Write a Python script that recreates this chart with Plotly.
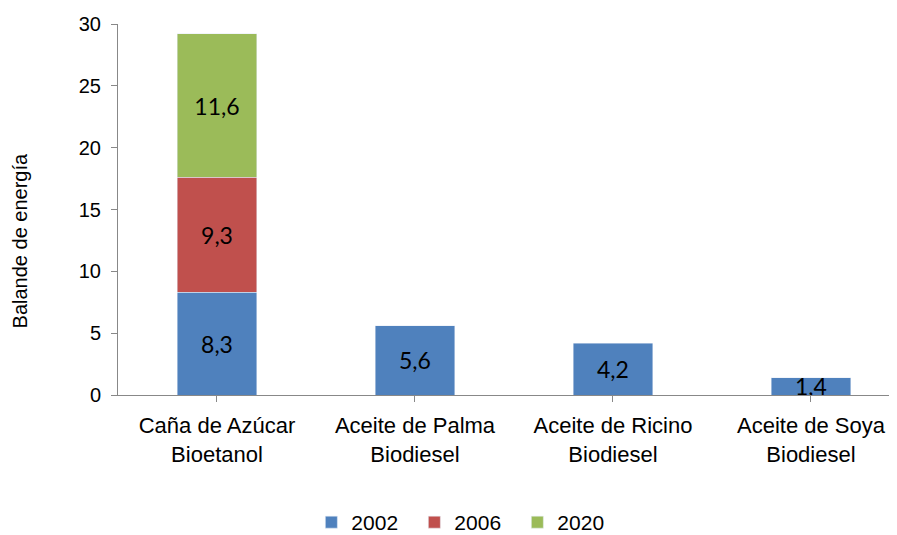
import plotly.graph_objects as go

categories = ["Caña de Azúcar<br>Bioetanol", "Aceite de Palma<br>Biodiesel",
              "Aceite de Ricino<br>Biodiesel", "Aceite de Soya<br>Biodiesel"]
v2002 = [8.3, 5.6, 4.2, 1.4]
v2006 = [9.3, None, None, None]
v2020 = [11.6, None, None, None]
y_title = "Balande de energía"

series = [("2002", v2002, "#4F81BD"), ("2006", v2006, "#C0504D"), ("2020", v2020, "#9BBB59")]

fig = go.Figure()
for name, vals, color in series:
    fig.add_trace(go.Bar(
        x=list(range(len(categories))), y=vals, name=name, marker_color=color,
        text=[None if v is None else f"{v:.1f}".replace(".", ",") for v in vals],
        textposition="inside", insidetextanchor="middle", constraintext="none",
        textfont=dict(family="Lato", size=23, color="black"),
        hoverinfo="skip",
    ))

fig.add_annotation(text=y_title, textangle=-90, xref="paper", yref="paper",
                   x=-0.1245, y=0.414, xanchor="center", yanchor="middle",
                   showarrow=False, font=dict(size=20))

fig.update_layout(
    barmode="stack", bargap=0.6,
    width=897, height=535,
    margin=dict(l=110, r=0, t=16, b=147),
    plot_bgcolor="white", paper_bgcolor="white",
    font=dict(family="Liberation Sans, Arial", size=20, color="black"),
    legend=dict(orientation="h", x=0.442, xanchor="center", y=-0.345, yanchor="middle",
                font=dict(size=21), traceorder="normal", entrywidth=58, itemwidth=30),
    xaxis=dict(range=[-0.5, 3.475], tickmode="array", tickvals=list(range(len(categories))),
               ticktext=categories, showline=True, linecolor="#888888", linewidth=1,
               ticks="outside", tickson="boundaries", ticklen=6, tickcolor="#888888",
               showgrid=False, zeroline=False, automargin=False,
               tickfont=dict(size=22), ticklabelstandoff=5),
    yaxis=dict(range=[0, 30], dtick=5, showline=True, linecolor="#888888", linewidth=1,
               ticks="outside", ticklen=6, tickcolor="#888888", showgrid=False, zeroline=False,
               automargin=False, ticklabelstandoff=6),
)

fig.write_html("out.html")
